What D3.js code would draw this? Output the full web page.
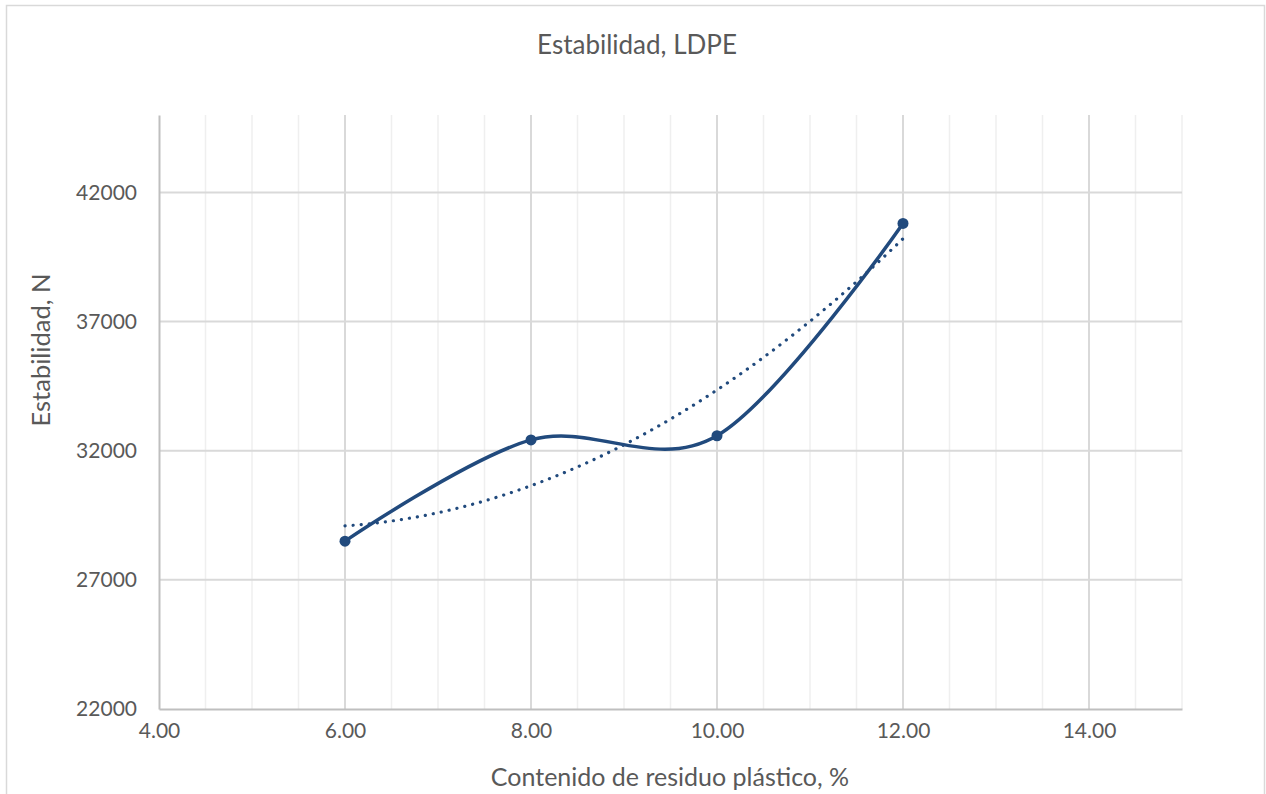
<!DOCTYPE html>
<html>
<head>
  <meta charset="utf-8">
  <title>Estabilidad, LDPE</title>
  <script src="https://d3js.org/d3.v7.min.js"></script>
  <style>
    body { margin: 0; background: #fff; }
    text { font-family: Lato, "Open Sans", sans-serif; fill: #595959; }
  </style>
</head>
<body>
  <div id="chart"></div>
  <script>
    // data
    var contenido = [6, 8, 10, 12];
    var estabilidad = [28500, 32420, 32580, 40800];
    var xTicks = [4, 6, 8, 10, 12, 14];
    var yTicks = [22000, 27000, 32000, 37000, 42000];

    var W = 1266, H = 794;
    var margin = { top: 115, right: 84, bottom: 85, left: 159 };
    var width = W - margin.left - margin.right,
      height = H - margin.top - margin.bottom;

    var svg = d3.select("#chart").append("svg")
      .attr("width", W).attr("height", H);

    // chart border
    svg.append("rect")
      .attr("x", 6.5).attr("y", 5.5)
      .attr("width", 1258).attr("height", 800)
      .attr("fill", "none").attr("stroke", "#d9d9d9").attr("stroke-width", 1.5);

    var g = svg.append("g")
      .attr("transform", "translate(" + margin.left + "," + margin.top + ")");

    var x = d3.scaleLinear().domain([4, 15]).range([0, width]);
    var y = d3.scaleLinear().domain([22000, 45000]).range([height, 0]);

    // minor vertical grid
    g.append("g").selectAll("line")
      .data(d3.range(4.5, 15.01, 0.5).filter(function (d) { return d % 2 !== 0; }))
      .enter().append("line")
      .attr("x1", function (d) { return x(d); }).attr("x2", function (d) { return x(d); })
      .attr("y1", 0).attr("y2", height)
      .attr("stroke", "#efefef").attr("stroke-width", 1.5);

    // major vertical grid
    g.append("g").selectAll("line")
      .data(xTicks.slice(1))
      .enter().append("line")
      .attr("x1", function (d) { return x(d); }).attr("x2", function (d) { return x(d); })
      .attr("y1", 0).attr("y2", height)
      .attr("stroke", "#d9d9d9").attr("stroke-width", 2);

    // major horizontal grid
    g.append("g").selectAll("line")
      .data(yTicks.slice(1))
      .enter().append("line")
      .attr("x1", 0).attr("x2", width)
      .attr("y1", function (d) { return y(d); }).attr("y2", function (d) { return y(d); })
      .attr("stroke", "#d9d9d9").attr("stroke-width", 2);

    // axes
    var xAxis = g.append("g")
      .attr("transform", "translate(0," + height + ")")
      .call(d3.axisBottom(x).tickValues(xTicks).tickSize(0).tickPadding(14)
        .tickFormat(d3.format(".2f")));
    xAxis.select(".domain").attr("stroke", "#bfbfbf").attr("stroke-width", 2);
    xAxis.selectAll("text").style("font-size", "21px").attr("fill", "#595959");

    var yAxis = g.append("g")
      .call(d3.axisLeft(y).tickValues(yTicks).tickSize(0).tickPadding(22)
        .tickFormat(d3.format("d")));
    yAxis.select(".domain").attr("stroke", "#bfbfbf").attr("stroke-width", 2);
    yAxis.selectAll("text").style("font-size", "21px").attr("fill", "#595959");

    // quadratic trendline (least squares)
    var n = contenido.length;
    var mx = d3.mean(contenido);
    var S = [0, 0, 0, 0, 0], T = [0, 0, 0];
    contenido.forEach(function (xv, i) {
      var t = xv - mx;
      for (var k = 0; k < 5; k++) S[k] += Math.pow(t, k);
      for (var k2 = 0; k2 < 3; k2++) T[k2] += Math.pow(t, k2) * estabilidad[i];
    });
    // solve 3x3 normal equations
    var M = [[S[0], S[1], S[2], T[0]], [S[1], S[2], S[3], T[1]], [S[2], S[3], S[4], T[2]]];
    for (var i = 0; i < 3; i++) {
      for (var j = i + 1; j < 3; j++) {
        var f = M[j][i] / M[i][i];
        for (var k = i; k < 4; k++) M[j][k] -= f * M[i][k];
      }
    }
    var coef = [0, 0, 0];
    for (var i2 = 2; i2 >= 0; i2--) {
      var s = M[i2][3];
      for (var k3 = i2 + 1; k3 < 3; k3++) s -= M[i2][k3] * coef[k3];
      coef[i2] = s / M[i2][i2];
    }
    var trend = d3.range(contenido[0], contenido[n - 1] + 0.001, 0.05).map(function (xv) {
      var t = xv - mx;
      return [xv, coef[0] + coef[1] * t + coef[2] * t * t];
    });

    var color = "#214a7d";

    g.append("path")
      .datum(trend)
      .attr("d", d3.line().x(function (d) { return x(d[0]); }).y(function (d) { return y(d[1]); }))
      .attr("fill", "none").attr("stroke", color).attr("stroke-width", 3.2)
      .attr("stroke-linecap", "round").attr("stroke-dasharray", "0.1 8");

    var pts = contenido.map(function (d, i) { return [d, estabilidad[i]]; });

    g.append("path")
      .datum(pts)
      .attr("d", d3.line().curve(d3.curveCardinal.tension(0))
        .x(function (d) { return x(d[0]); }).y(function (d) { return y(d[1]); }))
      .attr("fill", "none").attr("stroke", color).attr("stroke-width", 3.5)
      .attr("stroke-linecap", "round");

    g.selectAll("circle")
      .data(pts)
      .enter().append("circle")
      .attr("cx", function (d) { return x(d[0]); })
      .attr("cy", function (d) { return y(d[1]); })
      .attr("r", 5.5)
      .attr("fill", color);

    // titles
    svg.append("text")
      .attr("x", 637).attr("y", 54)
      .attr("text-anchor", "middle")
      .style("font-size", "26px")
      .text("Estabilidad, LDPE");

    svg.append("text")
      .attr("x", 670).attr("y", 786)
      .attr("text-anchor", "middle")
      .style("font-size", "25px")
      .text("Contenido de residuo plástico, %");

    svg.append("text")
      .attr("transform", "translate(50,350) rotate(-90)")
      .attr("text-anchor", "middle")
      .style("font-size", "25.5px")
      .text("Estabilidad, N");
  </script>
</body>
</html>
